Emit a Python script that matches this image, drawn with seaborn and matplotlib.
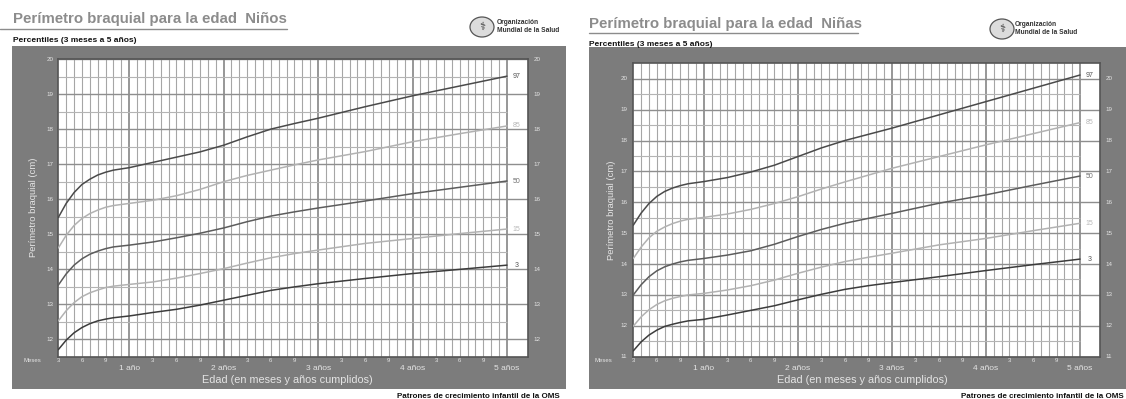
import numpy as np
import pandas as pd
import matplotlib
matplotlib.use("Agg")
import matplotlib.pyplot as plt
import matplotlib.transforms as mtransforms
from matplotlib.patches import Rectangle, Ellipse
from matplotlib.lines import Line2D
import seaborn as sns

# ---- data: mid-upper arm circumference (cm) by age in months ----
months = [3, 4, 5, 6, 7, 8, 9, 10, 12, 15, 18, 21, 24, 27, 30, 33, 36, 42, 48, 54, 60]

boys_p97 = [15.48, 15.88, 16.19, 16.42, 16.57, 16.69, 16.77, 16.83, 16.90, 17.05, 17.20,
            17.35, 17.54, 17.78, 18.00, 18.16, 18.31, 18.64, 18.95, 19.23, 19.51]
boys_p85 = [14.61, 14.97, 15.25, 15.45, 15.59, 15.69, 15.77, 15.82, 15.88, 15.97, 16.10,
            16.28, 16.50, 16.68, 16.83, 16.98, 17.12, 17.36, 17.64, 17.87, 18.09]
boys_p50 = [13.55, 13.87, 14.12, 14.30, 14.43, 14.52, 14.59, 14.64, 14.69, 14.78, 14.90,
            15.03, 15.18, 15.36, 15.52, 15.64, 15.75, 15.95, 16.16, 16.34, 16.52]
boys_p15 = [12.53, 12.82, 13.05, 13.22, 13.33, 13.41, 13.48, 13.52, 13.57, 13.64, 13.75,
            13.88, 14.02, 14.18, 14.33, 14.45, 14.55, 14.74, 14.88, 15.02, 15.15]
boys_p3 = [11.71, 11.98, 12.19, 12.34, 12.45, 12.53, 12.58, 12.62, 12.67, 12.77, 12.86,
           12.98, 13.12, 13.26, 13.40, 13.50, 13.59, 13.74, 13.88, 14.00, 14.12]

girls_p97 = [15.26, 15.65, 15.96, 16.19, 16.35, 16.46, 16.54, 16.60, 16.67, 16.80, 16.98,
             17.20, 17.48, 17.76, 18.00, 18.20, 18.40, 18.83, 19.26, 19.69, 20.12]
girls_p85 = [14.18, 14.55, 14.85, 15.06, 15.20, 15.31, 15.39, 15.45, 15.51, 15.62, 15.77,
             15.96, 16.18, 16.43, 16.66, 16.88, 17.10, 17.48, 17.86, 18.22, 18.58]
girls_p50 = [13.00, 13.33, 13.59, 13.78, 13.91, 14.00, 14.07, 14.12, 14.18, 14.29, 14.43,
             14.64, 14.89, 15.12, 15.32, 15.48, 15.64, 15.97, 16.24, 16.55, 16.85]
girls_p15 = [11.99, 12.29, 12.52, 12.69, 12.81, 12.89, 12.95, 13.00, 13.05, 13.16, 13.30,
             13.48, 13.70, 13.90, 14.08, 14.22, 14.35, 14.62, 14.83, 15.08, 15.32]
girls_p3 = [11.19, 11.48, 11.70, 11.86, 11.98, 12.05, 12.11, 12.16, 12.21, 12.35, 12.50,
            12.65, 12.84, 13.02, 13.18, 13.30, 13.40, 13.59, 13.79, 13.98, 14.16]

percentile_names = ["97", "85", "50", "15", "3"]
month_tick_labels = ["3", "6", "9"]
year_labels = ["1 año", "2 años", "3 años", "4 años", "5 años"]

# ---- styling ----
FRAME_GRAY = "#7c7c7c"
LIGHT_TEXT = "#e4e4e4"
line_colors = {"97": "#4a4a4a", "85": "#b2b2b2", "50": "#5c5c5c", "15": "#b2b2b2", "3": "#3c3c3c"}
label_colors = {"97": "#555555", "85": "#b8b8b8", "50": "#707070", "15": "#b8b8b8", "3": "#555555"}

sns.set_theme(style="white")
plt.rcParams["font.family"] = ["Liberation Sans", "DejaVu Sans"]

W, H = 1126, 399
fig = plt.figure(figsize=(W / 100, H / 100), dpi=100)
fig.patch.set_facecolor("white")


def fx(px):
    return px / W


def fy(py):
    return 1 - py / H


def long_table(series):
    rows = []
    for name, vals in zip(percentile_names, series):
        for m, v in zip(months, vals):
            rows.append({"mes": m, "cm": v, "percentil": name})
    return pd.DataFrame(rows)


def who_logo(cx, cy, tx):
    fig.add_artist(Ellipse((fx(cx), fy(cy)), 24 / W, 20 / H, transform=fig.transFigure,
                           facecolor="#dcdcdc", edgecolor="#555555", lw=0.9, zorder=2))
    fig.text(fx(cx), fy(cy), "⚕", fontsize=8, ha="center", va="center",
             color="#333333", family=["DejaVu Sans"], zorder=3)
    fig.text(fx(tx), fy(cy - 4), "Organización", fontsize=4.8, weight="bold",
             color="#333333", va="center")
    fig.text(fx(tx), fy(cy + 4), "Mundial de la Salud", fontsize=4.8, weight="bold",
             color="#333333", va="center")


def draw_panel(p):
    x0, y0, x1, y1 = p["box"]
    fig.add_artist(Rectangle((fx(x0), fy(y1)), (x1 - x0) / W, (y1 - y0) / H,
                             transform=fig.transFigure, facecolor=FRAME_GRAY,
                             edgecolor="none", zorder=-1))
    # title, underline, subtitle
    fig.text(fx(p["title_x"]), fy(p["title_y"]), p["title"], fontsize=10.8, weight="bold",
             color="#8c8c8c", va="center")
    fig.add_artist(Line2D([fx(p["rule"][0]), fx(p["rule"][1])],
                          [fy(p["rule"][2]), fy(p["rule"][2])],
                          transform=fig.transFigure, color="#8c8c8c", lw=1.0))
    fig.text(fx(p["title_x"]), fy(p["sub_y"]), "Percentiles (3 meses a 5 años)",
             fontsize=6.0, weight="bold", color="#111111", va="center")
    fig.text(fx(p["foot_x"]), fy(396), "Patrones de crecimiento infantil de la OMS",
             fontsize=5.8, weight="bold", color="#111111", va="center", ha="right")
    who_logo(*p["logo"])

    l, t, r, b = p["axes"]
    ax = fig.add_axes([fx(l), fy(b), (r - l) / W, (b - t) / H])
    ax.set_facecolor("white")
    ylo, yhi = p["ylim"]
    xmax = p["xmax"]
    ax.set_xlim(3, xmax)
    ax.set_ylim(ylo, yhi)

    # chart grid: monthly verticals, half-centimetre horizontals
    thin = [m for m in range(4, 61) if m % 12 != 0]
    ax.vlines(thin, ylo, yhi, colors="#a6a6a6", lw=0.8, zorder=1)
    ax.vlines([12, 24, 36, 48, 60], ylo, yhi, colors="#7a7a7a", lw=1.1, zorder=1)
    halves = np.arange(np.floor(ylo) + 0.5, yhi, 1.0)
    ax.hlines(halves, 3, 60, colors="#b4b4b4", lw=0.8, zorder=1)
    whole = np.arange(np.ceil(ylo), yhi + 0.01, 1.0)
    ax.hlines(whole, 3, xmax, colors="#8e8e8e", lw=1.0, zorder=1)

    df = long_table(p["series"])
    sns.lineplot(data=df, x="mes", y="cm", hue="percentil", palette=line_colors,
                 hue_order=percentile_names, legend=False, ax=ax, lw=1.1, zorder=3)
    for name, vals in zip(percentile_names, p["series"]):
        ax.text(61.2, vals[-1], name, fontsize=5, color=label_colors[name],
                ha="center", va="center", zorder=4)

    ax.set_xticks([])
    ax.set_yticks([])
    ax.set_xlabel("")
    ax.set_ylabel("")
    for s in ax.spines.values():
        s.set_visible(True)
        s.set_color("#555555")
        s.set_linewidth(1.2)

    # y tick labels on both sides of the chart
    ty = mtransforms.blended_transform_factory(fig.transFigure, ax.transData)
    for v in range(int(np.ceil(ylo)), int(np.floor(yhi)) + 1):
        ax.text(fx(p["ylab_left"]), v, str(v), transform=ty, fontsize=4.5,
                color=LIGHT_TEXT, ha="center", va="center", clip_on=False)
        ax.text(fx(p["ylab_right"]), v, str(v), transform=ty, fontsize=4.5,
                color=LIGHT_TEXT, ha="center", va="center", clip_on=False)

    # age labels: months within each year, then completed years
    tx = mtransforms.blended_transform_factory(ax.transData, fig.transFigure)
    for yr in range(5):
        for k, lab in enumerate(month_tick_labels):
            m = 12 * yr + 3 * (k + 1)
            ax.text(m, fy(361), lab, transform=tx, fontsize=4.3, color=LIGHT_TEXT,
                    ha="center", va="center", clip_on=False)
        ax.text(12 * (yr + 1), fy(369), year_labels[yr], transform=tx, fontsize=6,
                color=LIGHT_TEXT, ha="center", va="center", clip_on=False)
    fig.text(fx(p["meses_x"]), fy(361), "Meses", fontsize=4.3, color=LIGHT_TEXT,
             ha="center", va="center")
    fig.text(fx(p["xlabel_x"]), fy(380), "Edad (en meses y años cumplidos)", fontsize=7.8,
             color=LIGHT_TEXT, ha="center", va="center")
    fig.text(fx(p["ylabel_x"]), fy(p["ylabel_y"]), "Perímetro braquial (cm)", fontsize=6.8,
             color=LIGHT_TEXT, ha="center", va="center", rotation=90)


panels = [
    dict(box=(12, 46, 566, 389), title="Perímetro braquial para la edad  Niños",
         title_x=13, title_y=19, rule=(0, 287, 29), sub_y=40, foot_x=560,
         logo=(482, 27, 497), axes=(58.3, 59, 528, 357), ylim=(11.5, 20), xmax=62.67,
         series=[boys_p97, boys_p85, boys_p50, boys_p15, boys_p3],
         ylab_left=50, ylab_right=537, meses_x=32, xlabel_x=287, ylabel_x=34, ylabel_y=207),
    dict(box=(589, 47, 1130, 389), title="Perímetro braquial para la edad  Niñas",
         title_x=589, title_y=24, rule=(589, 858, 33), sub_y=44, foot_x=1124,
         logo=(1002, 29, 1015), axes=(633.3, 63.3, 1100, 356.7), ylim=(11, 20.5), xmax=62.55,
         series=[girls_p97, girls_p85, girls_p50, girls_p15, girls_p3],
         ylab_left=624, ylab_right=1109, meses_x=603, xlabel_x=862, ylabel_x=611, ylabel_y=210),
]

for p in panels:
    draw_panel(p)

fig.savefig("out.png", dpi=100, facecolor="white")
